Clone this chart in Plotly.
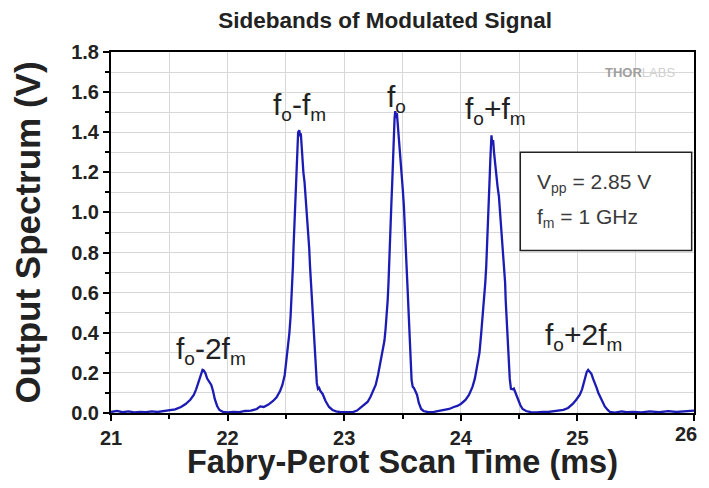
import plotly.graph_objects as go

# Values (scan time in ms, output in V)
scan_time_ms = [
    21.00, 21.05, 21.10, 21.15, 21.20, 21.25, 21.30, 21.35, 21.40, 21.45, 21.50,
    21.55, 21.60, 21.64, 21.68, 21.71, 21.73, 21.755, 21.77, 21.785, 21.795, 21.81,
    21.825, 21.84, 21.86, 21.875, 21.89, 21.91, 21.93, 21.96, 22.00, 22.05, 22.10,
    22.15, 22.20, 22.25, 22.28, 22.31, 22.35, 22.39, 22.42, 22.45, 22.47, 22.49,
    22.505, 22.52, 22.53, 22.54, 22.548, 22.555, 22.56, 22.565, 22.57, 22.577,
    22.583, 22.588, 22.593, 22.600, 22.605, 22.615, 22.622, 22.628, 22.635, 22.640,
    22.650, 22.660, 22.672, 22.680, 22.692, 22.700, 22.707, 22.715, 22.724, 22.730,
    22.735, 22.745, 22.752, 22.760, 22.765, 22.775, 22.785, 22.795, 22.815, 22.84,
    22.87, 22.90, 22.93, 22.97, 23.00, 23.04, 23.08, 23.11, 23.14, 23.17, 23.20,
    23.225, 23.25, 23.27, 23.29, 23.31, 23.325, 23.345, 23.355, 23.365, 23.373,
    23.38, 23.387, 23.392, 23.398, 23.405, 23.412, 23.418, 23.425, 23.432, 23.438,
    23.445, 23.452, 23.460, 23.468, 23.475, 23.485, 23.495, 23.503, 23.512, 23.520,
    23.528, 23.535, 23.542, 23.548, 23.555, 23.562, 23.570, 23.578, 23.588, 23.598,
    23.610, 23.625, 23.640, 23.660, 23.68, 23.72, 23.77, 23.82, 23.86, 23.90, 23.94,
    23.97, 24.00, 24.04, 24.07, 24.10, 24.12, 24.14, 24.16, 24.175, 24.188, 24.198,
    24.210, 24.218, 24.225, 24.232, 24.238, 24.243, 24.248, 24.253, 24.258, 24.263,
    24.270, 24.277, 24.285, 24.290, 24.300, 24.315, 24.327, 24.337, 24.350, 24.360,
    24.370, 24.380, 24.385, 24.392, 24.398, 24.405, 24.413, 24.420, 24.430, 24.445,
    24.455, 24.47, 24.49, 24.51, 24.53, 24.56, 24.60, 24.65, 24.70, 24.75, 24.80,
    24.84, 24.88, 24.92, 24.96, 24.99, 25.02, 25.04, 25.055, 25.065, 25.08, 25.092,
    25.105, 25.12, 25.135, 25.15, 25.165, 25.18, 25.195, 25.21, 25.235, 25.26, 25.28,
    25.32, 25.38, 25.42, 25.48, 25.55, 25.62, 25.70, 25.78, 25.85, 25.92, 26.00,
]
output_v = [
    0.005, 0.010, 0.004, 0.008, 0.003, 0.006, 0.004, 0.008, 0.005, 0.010, 0.012,
    0.018, 0.030, 0.045, 0.066, 0.090, 0.118, 0.160, 0.190, 0.215, 0.212, 0.198,
    0.172, 0.156, 0.140, 0.110, 0.070, 0.035, 0.015, 0.006, 0.003, 0.006, 0.004,
    0.010, 0.012, 0.020, 0.033, 0.030, 0.042, 0.060, 0.078, 0.110, 0.140, 0.190,
    0.260, 0.330, 0.400, 0.480, 0.563, 0.650, 0.730, 0.820, 0.900, 1.000,
    1.080, 1.180, 1.260, 1.330, 1.400, 1.410, 1.380, 1.395, 1.320, 1.280,
    1.200, 1.150, 1.060, 0.980, 0.900, 0.820, 0.730, 0.650, 0.560, 0.480,
    0.400, 0.320, 0.260, 0.200, 0.150, 0.120, 0.125, 0.110, 0.095, 0.060,
    0.030, 0.015, 0.008, 0.004, 0.005, 0.008, 0.006, 0.012, 0.025, 0.040, 0.055,
    0.080, 0.110, 0.140, 0.190, 0.250, 0.300, 0.360, 0.420, 0.480, 0.563,
    0.650, 0.740, 0.840, 0.946, 1.050, 1.150, 1.280, 1.380, 1.470, 1.505,
    1.470, 1.495, 1.440, 1.390, 1.330, 1.250, 1.180, 1.110, 1.030, 0.946,
    0.850, 0.730, 0.640, 0.563, 0.450, 0.314, 0.230, 0.164, 0.130, 0.125,
    0.110, 0.090, 0.050, 0.020, 0.010, 0.004, 0.006, 0.010, 0.015, 0.020, 0.030,
    0.035, 0.045, 0.065, 0.090, 0.130, 0.170, 0.230, 0.300, 0.397, 0.480, 0.563,
    0.650, 0.730, 0.820, 0.896, 1.000, 1.100, 1.180, 1.261, 1.330, 1.385,
    1.340, 1.361, 1.300, 1.270, 1.200, 1.130, 1.079, 1.000, 0.896, 0.820,
    0.730, 0.650, 0.563, 0.480, 0.397, 0.310, 0.231, 0.170, 0.120, 0.118,
    0.122, 0.095, 0.070, 0.040, 0.020, 0.010, 0.004, 0.003, 0.006, 0.005, 0.008,
    0.010, 0.016, 0.025, 0.045, 0.066, 0.090, 0.118, 0.150, 0.181, 0.205, 0.215,
    0.205, 0.195, 0.170, 0.150, 0.125, 0.100, 0.080, 0.060, 0.033, 0.015, 0.005,
    0.002, 0.008, 0.004, 0.006, 0.003, 0.008, 0.004, 0.009, 0.005, 0.010, 0.012,
]

SUB = "<sub><span style='font-size:19px'>{}</span></sub>"
peak_labels = [
    "f" + SUB.format("o") + "-2f" + SUB.format("m"),
    "f" + SUB.format("o") + "-f" + SUB.format("m"),
    "f" + SUB.format("o"),
    "f" + SUB.format("o") + "+f" + SUB.format("m"),
    "f" + SUB.format("o") + "+2f" + SUB.format("m"),
]
peak_label_x = [21.86, 22.62, 23.45, 24.30, 25.05]
peak_label_y = [0.31, 1.53, 1.57, 1.51, 0.38]

x_ticks = [21, 22, 23, 24, 25, 26]
x_tick_text = ["21", "22", "23", "24", "25", "26"]
y_ticks = [0.0, 0.2, 0.4, 0.6, 0.8, 1.0, 1.2, 1.4, 1.6, 1.8]

FONT = "Liberation Sans, Arial, sans-serif"
TICKFONT = dict(family=FONT, size=20, color="#222222", weight="bold")

fig = go.Figure()
fig.add_trace(go.Scatter(
    x=scan_time_ms, y=output_v, mode="lines",
    line=dict(color="#1c1cb4", width=2.3), showlegend=False,
))

for txt, lx, ly in zip(peak_labels, peak_label_x, peak_label_y):
    fig.add_annotation(x=lx, y=ly, text=txt, showarrow=False,
                       font=dict(family=FONT, size=30, color="#222222"))

# info box
fig.add_shape(type="rect", xref="x", yref="y", x0=24.51, x1=25.98, y0=0.81, y1=1.30,
              line=dict(color="#222222", width=1.5), fillcolor="white", layer="above")
SUB2 = "<sub><span style='font-size:14px'>{}</span></sub>"
fig.add_annotation(x=24.64, y=1.145, xanchor="left", text="V" + SUB2.format("pp") + " = 2.85 V",
                   showarrow=False, font=dict(family=FONT, size=21, color="#3a3a3a"))
fig.add_annotation(x=24.64, y=0.97, xanchor="left", text="f" + SUB2.format("m") + " = 1 GHz",
                   showarrow=False, font=dict(family=FONT, size=21, color="#3a3a3a"))

# watermark
fig.add_annotation(x=25.54, y=1.70, text="<b>THOR</b><span style='color:#d0d0d0'>LABS</span>",
                   showarrow=False, font=dict(family=FONT, size=13, color="#a0a0a0"))

# last x tick label, nudged left so it stays inside the visible window
fig.add_annotation(x=x_ticks[-1], y=0, xref="x", yref="y", text=x_tick_text[-1],
                   showarrow=False, xanchor="right", yanchor="top", xshift=5, yshift=-8,
                   font=TICKFONT)

axis_common = dict(
    showline=True, linecolor="black", linewidth=2, mirror=True,
    ticks="outside", tickcolor="black", ticklen=6, tickwidth=2,
    tickfont=TICKFONT,
    showgrid=True, gridcolor="#d8d8d8", gridwidth=1, zeroline=False,
    automargin=False,
)

fig.update_xaxes(
    range=[21, 26], tickvals=x_ticks, ticktext=x_tick_text[:-1] + [""], **axis_common,
    minor=dict(dtick=0.5, showgrid=True, gridcolor="#d8d8d8", ticks="outside",
               ticklen=4, tickcolor="black"),
    title=dict(text="Fabry-Perot Scan Time (ms)", standoff=5,
               font=dict(family=FONT, size=32.5, color="#222222", weight="bold")),
)
fig.update_yaxes(
    range=[0, 1.8], tickvals=y_ticks, tickformat=".1f", **axis_common,
    minor=dict(dtick=0.1, showgrid=True, gridcolor="#d8d8d8", ticks="outside",
               ticklen=4, tickcolor="black"),
    title=dict(text="Output Spectrum (V)", standoff=21,
               font=dict(family=FONT, size=35, color="#222222", weight="bold")),
)

# the page body adds an 8 px margin, so the figure is sized to fit the window
fig.update_layout(
    width=701, height=472,
    margin=dict(l=103, r=15, t=44, b=67),
    paper_bgcolor="white", plot_bgcolor="white",
    title=dict(text="Sidebands of Modulated Signal", x=0.538, xanchor="center",
               y=0.9745, yanchor="middle",
               font=dict(family=FONT, size=22.5, color="#222222", weight="bold")),
)

fig.write_html("out.html")
